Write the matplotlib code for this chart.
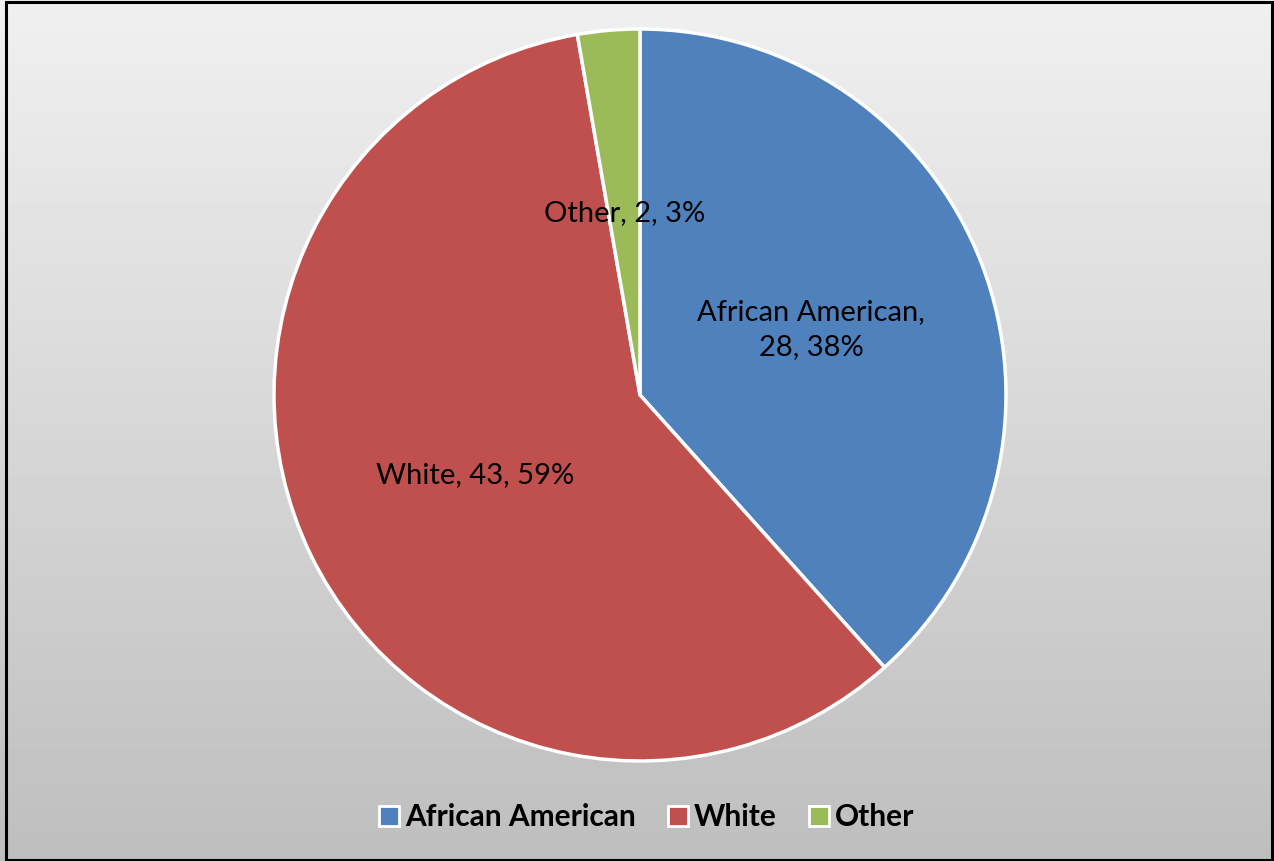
import numpy as np
import matplotlib.pyplot as plt
from matplotlib.patches import Rectangle
from matplotlib.lines import Line2D

categories = ["African American", "White", "Other"]
counts = [28, 43, 2]
colors = ["#4F81BD", "#C0504D", "#9BBB59"]

W, H, DPI = 1274, 861, 100
plt.rcParams['font.family'] = ['Lato', 'DejaVu Sans']

fig = plt.figure(figsize=(W / DPI, H / DPI), dpi=DPI)

# gradient background
bg = fig.add_axes([0, 0, 1, 1], zorder=0)
grad = np.linspace(0.94, 0.745, 256).reshape(-1, 1)
bg.imshow(grad, cmap='gray', vmin=0, vmax=1, aspect='auto', extent=[0, 1, 0, 1])
bg.set_xlim(0, 1)
bg.set_ylim(0, 1)
bg.axis('off')

# chart border
fig.patches.append(Rectangle((6 / W, 1 / H), (1272 - 6) / W, (859 - 1) / H,
                             transform=fig.transFigure, fill=False,
                             edgecolor='black', linewidth=2.2, zorder=10))

# pie axes
cx, cy, r = 640, 395, 366
ax = fig.add_axes([(cx - r) / W, 1 - (cy + r) / H, 2 * r / W, 2 * r / H], zorder=1)
wedges, _ = ax.pie(counts, colors=colors, startangle=90, counterclock=False,
                   wedgeprops=dict(edgecolor='white', linewidth=2.5))
ax.set_xlim(-1, 1)
ax.set_ylim(-1, 1)
ax.set_aspect('equal')
ax.axis('off')

total = sum(counts)
label_text = {
    "African American": "African American,\n{n}, {p}%",
    "White": "{c}, {n}, {p}%",
    "Other": "{c}, {n}, {p}%",
}
for w, c, n in zip(wedges, categories, counts):
    mid = np.deg2rad((w.theta1 + w.theta2) / 2)
    pct = round(100 * n / total)
    ax.text(0.5 * np.cos(mid), 0.5 * np.sin(mid),
            label_text[c].format(c=c, n=n, p=pct),
            ha='center', va='center', fontsize=21, color='black',
            linespacing=1.45)

handles = [Line2D([0], [0], marker='s', linestyle='none', markersize=14,
                  markerfacecolor=col, markeredgecolor='white', markeredgewidth=2)
           for col in colors]
fig.legend(handles, categories, loc='center', bbox_to_anchor=(645 / W, 1 - 817 / H),
           ncol=3, frameon=False, prop=dict(weight='bold', size=21.5),
           handletextpad=0.1, columnspacing=0.95, handlelength=0.9)

fig.savefig('out.png', dpi=DPI)
